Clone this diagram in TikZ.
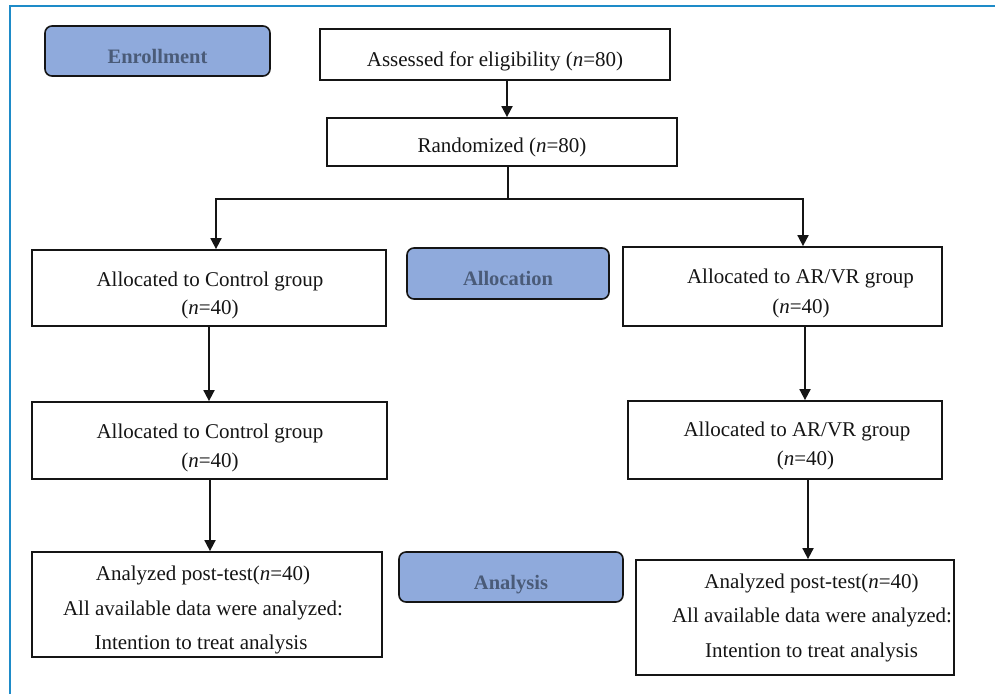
\documentclass[tikz,border=0pt]{standalone}
\usepackage{fontspec}
\setmainfont{Liberation Serif}
\usetikzlibrary{arrows.meta,calc}
\definecolor{frameblue}{HTML}{1E8BC8}
\definecolor{labfill}{HTML}{8FAADC}
\definecolor{labtext}{HTML}{4A5B78}
\definecolor{ink}{HTML}{151515}
\begin{document}
\begin{tikzpicture}[x=1pt,y=-1pt,
  box/.style={draw=ink, line width=1.8pt, rectangle, inner sep=0pt},
  lab/.style={draw=ink, line width=1.6pt, fill=labfill, rounded corners=7pt, inner sep=0pt,
    text=labtext, font=\fontsize{20.5}{24}\selectfont\bfseries, text height=24pt, text depth=0pt},
  txt/.style={anchor=base, inner sep=0pt, text=ink, font=\fontsize{21}{25}\selectfont},
  conn/.style={draw=ink, line width=1.8pt},
  arr/.style={conn, -{Triangle[width=11pt,length=11pt]}}]
\useasboundingbox (0,0) rectangle (995,694);
\fill[white] (0,0) rectangle (995,694);
% frame (top and left only)
\draw[frameblue, line width=2.5pt] (10,694) -- (10,6) -- (995,6);

% stage labels
\node[lab, minimum width=225pt, minimum height=50pt] (enroll) at (157.5,51) {Enrollment};
\node[lab, minimum width=202pt, minimum height=51pt] (alloc) at (508,273.5) {Allocation};
\node[lab, minimum width=224pt, minimum height=50pt] (anal) at (511,577) {Analysis};

% boxes
\node[box, minimum width=350pt, minimum height=51pt] (assess) at (495,54.5) {};
\node[box, minimum width=350pt, minimum height=48pt] (rand) at (502,142) {};
\node[box, minimum width=354pt, minimum height=76pt] (L1) at (209,288) {};
\node[box, minimum width=319pt, minimum height=79pt] (R1) at (782.5,286.5) {};
\node[box, minimum width=355pt, minimum height=77pt] (L2) at (209.5,440.5) {};
\node[box, minimum width=314pt, minimum height=78pt] (R2) at (785,440) {};
\node[box, minimum width=350pt, minimum height=105pt] (L3) at (207,604.5) {};
\node[box, minimum width=318pt, minimum height=115pt] (R3) at (795,617.5) {};

% texts
\node[txt] (assessT) at (495,66.5) {Assessed for eligibility (\textit{n}=80)};
\node[txt] (randT) at (502,152.7) {Randomized (\textit{n}=80)};
\node[txt] (L1a) at (210,286) {Allocated to Control group};
\node[txt] (L1b) at (210,314) {(\textit{n}=40)};
\node[txt] (R1a) at (800.5,283.5) {Allocated to AR/VR group};
\node[txt] (R1b) at (801,313) {(\textit{n}=40)};
\node[txt] (L2a) at (210,438) {Allocated to Control group};
\node[txt] (L2b) at (210,467) {(\textit{n}=40)};
\node[txt] (R2a) at (797,436) {Allocated to AR/VR group};
\node[txt] (R2b) at (805.5,465) {(\textit{n}=40)};
\node[txt] (L3a) at (203,580.5) {Analyzed post-test(\textit{n}=40)};
\node[txt] (L3b) at (203,615) {All available data were analyzed:};
\node[txt] (L3c) at (201,649.5) {Intention to treat analysis};
\node[txt] (R3a) at (811.5,588) {Analyzed post-test(\textit{n}=40)};
\node[txt] (R3b) at (812,622.5) {All available data were analyzed:};
\node[txt] (R3c) at (811.5,657.5) {Intention to treat analysis};

% connectors
\coordinate (ax) at (507,0);
\coordinate (split) at (508,199);
\coordinate (lx) at (216,0);
\coordinate (lx1) at (209,0);
\coordinate (lx2) at (210,0);
\coordinate (rx) at (803,0);
\coordinate (rx1) at (805,0);
\coordinate (rx2) at (808,0);
\draw[arr] (assess.south -| ax) -- (rand.north -| ax);
\draw[conn] (rand.south -| split) -- (split);
\draw[arr] (split) -| (L1.north -| lx);
\draw[arr] (split) -| (R1.north -| rx);
\draw[arr] (L1.south -| lx1) -- (L2.north -| lx1);
\draw[arr] (L2.south -| lx2) -- (L3.north -| lx2);
\draw[arr] (R1.south -| rx1) -- (R2.north -| rx1);
\draw[arr] (R2.south -| rx2) -- (R3.north -| rx2);
\end{tikzpicture}
\end{document}
